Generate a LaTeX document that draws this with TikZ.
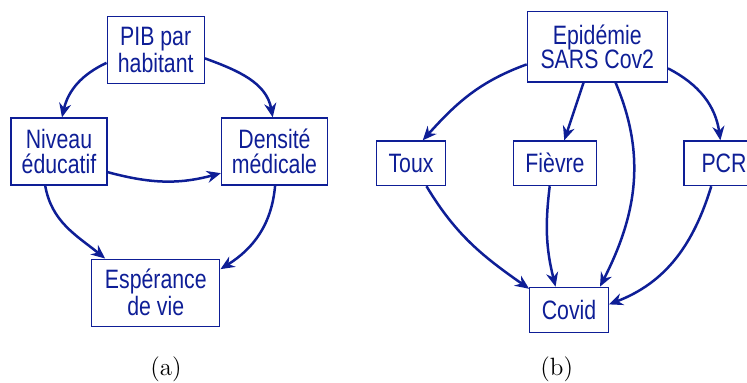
\documentclass[tikz,border=0pt]{standalone}
\usepackage{fontspec}
\newfontfamily\boxfont[FakeStretch=0.8]{Liberation Sans}
\usetikzlibrary{arrows.meta}
\definecolor{ink}{RGB}{14,30,150}

\tikzset{
	box/.style={draw=ink, line width=0.65pt, text=ink, align=center, inner sep=0pt,
		font=\boxfont\fontsize{13.3}{12.3}\selectfont},
	arr/.style={draw=ink, line width=1.25pt, -{Stealth[length=7pt,width=6pt]}},
	caption/.style={font=\fontsize{12.5}{15}\selectfont}
}

\begin{document}
\begin{tikzpicture}[x=0.5pt,y=-0.5pt]
	\useasboundingbox (0,0) rectangle (747,383);
	% (a)
	\node (pib) [box, minimum width=48.5pt, minimum height=33.5pt] at (155.7,49.7) {PIB par\\habitant};
	\node (niv) [box, minimum width=48pt, minimum height=33.5pt] at (59,151.5) {Niveau\\éducatif};
	\node (den) [box, minimum width=53pt, minimum height=33.5pt] at (274.5,151.5) {Densité\\médicale};
	\node (esp) [box, minimum width=64pt, minimum height=33.5pt] at (155.8,292.7) {Espérance\\de vie};
	\draw [arr] (pib.195) to[out=205, in=77] (niv.85);
	\draw [arr] (pib.-10) to[out=-20, in=100] (den.93);
	\draw [arr] (niv.-23) to[out=-15, in=195] (den.202);
	\draw [arr] (niv.248) to[out=-80, in=141] (esp.146);
	\draw [arr] (den.271) to[out=-95, in=32] (esp.20);
	\node (capa) [caption] at (166,369.3) {(a)};
	% (b)
	\node (epi) [box, minimum width=70pt, minimum height=35.2pt] at (597.3,46.8) {Epidémie\\SARS Cov2};
	\node (toux) [box, minimum width=34.3pt, minimum height=22.3pt] at (411,163.3) {Toux};
	\node (fie) [box, minimum width=41.7pt, minimum height=22.3pt] at (555,163.3) {Fièvre};
	\node (pcr) [box, minimum width=40pt, minimum height=22.3pt] at (724,163.3) {PCR};
	\node (cov) [box, minimum width=39.2pt, minimum height=22.7pt] at (569,310) {Covid};
	\draw [arr] (epi.194) to[out=200, in=48] (toux.63);
	\draw [arr] (epi.249) -- (fie.68);
	\draw [arr] (epi.-63) to[out=-67, in=63] (cov.37);
	\draw [arr] (epi.-17) to[out=-27, in=98] (pcr.99);
	\draw [arr] (toux.-56) to[out=-59, in=145] (cov.152);
	\draw [arr] (fie.257) to[out=-97, in=104] (cov.120);
	\draw [arr] (pcr.241) to[out=253, in=21] (cov.8);
	\node (capb) [caption] at (556.7,369) {(b)};
\end{tikzpicture}
\end{document}
